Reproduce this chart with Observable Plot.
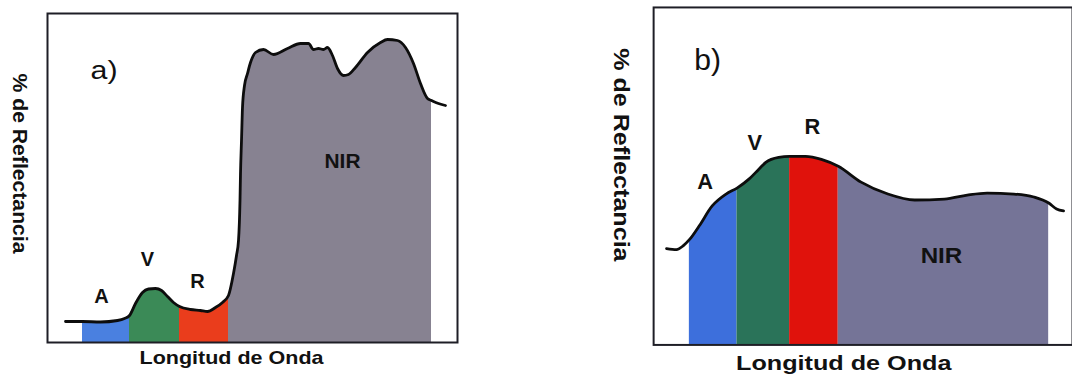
<!DOCTYPE html>
<html><head><meta charset="utf-8">
<script src="https://cdn.jsdelivr.net/npm/d3@7"></script>
<script src="https://cdn.jsdelivr.net/npm/@observablehq/plot@0.6"></script>
<style>
html,body{margin:0;padding:0;background:#fff;}
#wrap{position:relative;width:1072px;height:375px;overflow:hidden;background:#fff;}
#a{position:absolute;left:0;top:0;}
#b{position:absolute;left:536px;top:0;}
</style></head>
<body><div id="wrap"><div id="a"></div><div id="b"></div></div>
<script>
// ---- Data (wavelength in nm-like units, reflectance in %) ----
const waveA = [366,400,436,470,484,494,506,520,532,546,558,570,582,594,616,636,650,666,680,692,702,708,712,715,716,718,720,724,730,736,746,762,782,810,836,852,862,872,882,890,900,910,922,932,946,970,996,1010,1030,1046,1062,1076,1090,1098,1102,1126];
const reflA = [4.2,4.2,4.1,4.4,4.8,5.4,7.8,10.0,10.7,10.8,10.4,9.2,8.0,7.2,6.6,6.4,6.2,7.0,8.0,9.4,13.8,17.4,20.4,28.4,33.8,40.4,47.0,51.4,53.8,56.0,58.0,58.6,57.6,58.8,59.8,59.8,58.6,58.8,58.6,59.0,57.4,54.8,53.4,53.6,55.0,58.0,60.0,60.6,60.4,59.0,55.8,51.8,48.8,48.4,48.2,47.4];
const waveB = [354,374,388,400,420,446,474,496,520,540,554,580,602,634,666,700,746,800,854,914,960,1000,1054,1094,1124,1140,1154];
const reflB = [19.4,19.2,20.0,21.2,24.0,28.0,30.4,31.6,33.4,35.4,36.8,37.8,38.0,38.0,37.4,36.0,32.8,30.4,29.2,29.4,30.2,30.6,30.4,29.8,28.6,27.4,27.0];

const bandNames = ["A", "V", "R", "NIR"];
const bandEdgesA = [400, 494, 594, 692, 1098];
const bandEdgesB = [400, 496, 602, 700, 1124];

// label anchors (data units)
const labelXA = [438, 530, 630, 920];
const labelYA = [8.0, 15.4, 11.0, 35.0];
const labelXB = [432, 532, 648, 908];
const labelYB = [31.4, 39.2, 42.4, 16.6];

const panelTags = ["a)", "b)"];
const tagX = [416, 410];
const tagY = [52.8, 55.4];

const xLabel = "Longitud de Onda";
const yLabel = "% de Reflectancia";

// ---- Styles ----
const colorsA = ["#4a80e0", "#3b8a57", "#ea3d1c", "#878291"];
const colorsB = ["#3d6fdc", "#2a7359", "#e0120c", "#757497"];
const FONT = "Liberation Sans, Arial, Helvetica, sans-serif";

function makePanel(cfg) {
  const curve = cfg.wave.map((w, i) => ({x: w, y: cfg.refl[i]}));
  const marks = [];
  bandNames.forEach((name, i) => {
    const lo = cfg.edges[i], hi = cfg.edges[i + 1];
    const pts = curve.filter(d => d.x >= lo && d.x <= hi);
    marks.push(Plot.areaY(pts, {x: "x", y: "y", fill: cfg.colors[i], curve: "monotone-x"}));
  });
  marks.push(Plot.line(curve, {x: "x", y: "y", stroke: "#0d0d0d", strokeWidth: 2.8, curve: "monotone-x", strokeLinejoin: "round", strokeLinecap: "round"}));
  marks.push(Plot.frame({stroke: "#1e1e26", strokeWidth: 2}));
  const labels = bandNames.map((n, i) => ({t: n, x: cfg.lx[i], y: cfg.ly[i]}));
  marks.push(Plot.text(labels, {x: "x", y: "y", text: "t", fontSize: cfg.bandFont, fontWeight: "bold", fontFamily: FONT, fill: "#111", textAnchor: "middle", lineAnchor: "bottom"}));
  marks.push(Plot.text([cfg.tag], {x: () => cfg.tx, y: () => cfg.ty, text: d => d, fontSize: cfg.tagFont, fontFamily: FONT, fill: "#111", textAnchor: "start", lineAnchor: "bottom"}));
  marks.push(Plot.text([xLabel], {frameAnchor: "bottom", text: d => d, dx: cfg.xlDx, dy: cfg.xlDy, fontSize: cfg.xlFont, fontWeight: "bold", fontFamily: FONT, fill: "#111", textAnchor: "middle", lineAnchor: "bottom"}));
  marks.push(Plot.text([yLabel], {frameAnchor: "left", text: d => d, rotate: 90, dx: cfg.ylDx, dy: cfg.ylDy, fontSize: cfg.ylFont, fontWeight: "bold", fontFamily: FONT, fill: "#111", textAnchor: "middle", lineAnchor: "middle"}));

  const svg = Plot.plot({
    width: cfg.width, height: 375,
    marginLeft: cfg.ml, marginRight: cfg.mr, marginTop: cfg.mt, marginBottom: cfg.mb,
    x: {domain: cfg.xd, axis: null},
    y: {domain: cfg.yd, axis: null},
    style: {background: "transparent", overflow: "visible"},
    marks
  });
  const fits = cfg.fits;
  svg.querySelectorAll("text").forEach(t => {
    const k = t.textContent;
    if (fits[k] !== undefined) {
      t.setAttribute("textLength", fits[k]);
      t.setAttribute("lengthAdjust", "spacingAndGlyphs");
    }
  });
  return svg;
}

document.getElementById("a").appendChild(makePanel({
  wave: waveA, refl: reflA, edges: bandEdgesA, colors: colorsA,
  lx: labelXA, ly: labelYA, tag: panelTags[0], tx: tagX[0], ty: tagY[0],
  width: 536, ml: 47, mr: 79, mt: 13, mb: 33,
  xd: [330, 1150], yd: [0, 65.8],
  bandFont: 20, tagFont: 26,
  xlDx: -21, xlDy: 21, xlFont: 19,
  ylDx: -27.5, ylDy: -14.5, ylFont: 21,
  fits: {"Longitud de Onda": 184, "% de Reflectancia": 180, "a)": 27, "NIR": 36}
}));

document.getElementById("b").appendChild(makePanel({
  wave: waveB, refl: reflB, edges: bandEdgesB, colors: colorsB,
  lx: labelXB, ly: labelYB, tag: panelTags[1], tx: tagX[1], ty: tagY[1],
  width: 540, ml: 118, mr: 0, mt: 7, mb: 28,
  xd: [328, 1172], yd: [0, 68],
  bandFont: 22, tagFont: 30,
  xlDx: -19.5, xlDy: 25, xlFont: 21,
  ylDx: -33, ylDy: -21.5, ylFont: 23,
  fits: {"Longitud de Onda": 217, "% de Reflectancia": 215, "b)": 27, "NIR": 42}
}));
</script>
</body></html>
